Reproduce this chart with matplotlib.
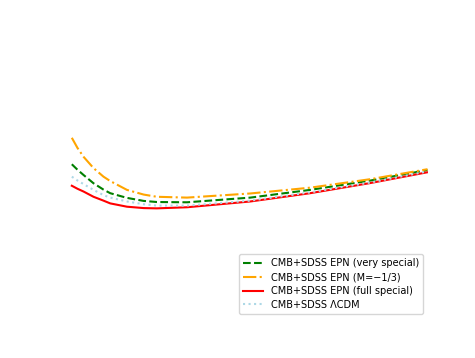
import matplotlib
matplotlib.use("Agg")
import matplotlib.pyplot as plt

# redshift-like abscissa (normalised) and curves
x = [0.0, 0.016, 0.033, 0.061, 0.089, 0.108, 0.155, 0.202, 0.239, 0.324, 0.502, 0.670, 0.840, 1.0]

very_special = [0.560, 0.540, 0.521, 0.491, 0.468, 0.455, 0.438, 0.427, 0.423, 0.422, 0.439, 0.467, 0.501, 0.539]
m_third      = [0.656, 0.619, 0.587, 0.546, 0.515, 0.499, 0.467, 0.450, 0.442, 0.439, 0.454, 0.475, 0.506, 0.542]
full_special = [0.482, 0.471, 0.461, 0.442, 0.428, 0.418, 0.406, 0.401, 0.400, 0.404, 0.425, 0.455, 0.492, 0.531]
lcdm         = [0.515, 0.501, 0.488, 0.467, 0.448, 0.439, 0.425, 0.415, 0.410, 0.410, 0.428, 0.458, 0.494, 0.534]

labels = ["CMB+SDSS EPN (very special)",
          "CMB+SDSS EPN (M=\u22121/3)",
          "CMB+SDSS EPN (full special)",
          "CMB+SDSS \u039bCDM"]

fig, ax = plt.subplots(figsize=(4.75, 3.58), dpi=100)

ax.plot(x, very_special, color="green", ls="--", lw=1.5, label=labels[0])
ax.plot(x, m_third, color="orange", ls="-.", lw=1.5, label=labels[1])
ax.plot(x, full_special, color="red", ls="-", lw=1.5, label=labels[2])
ax.plot(x, lcdm, color="lightblue", ls=":", lw=1.5, label=labels[3])

ax.set_xlim(-0.035, 1.0)
ax.set_ylim(0, 1)
ax.axis("off")
ax.legend(loc="lower right", fontsize=7, labelspacing=0.4)

fig.savefig("out.png", dpi=100)
